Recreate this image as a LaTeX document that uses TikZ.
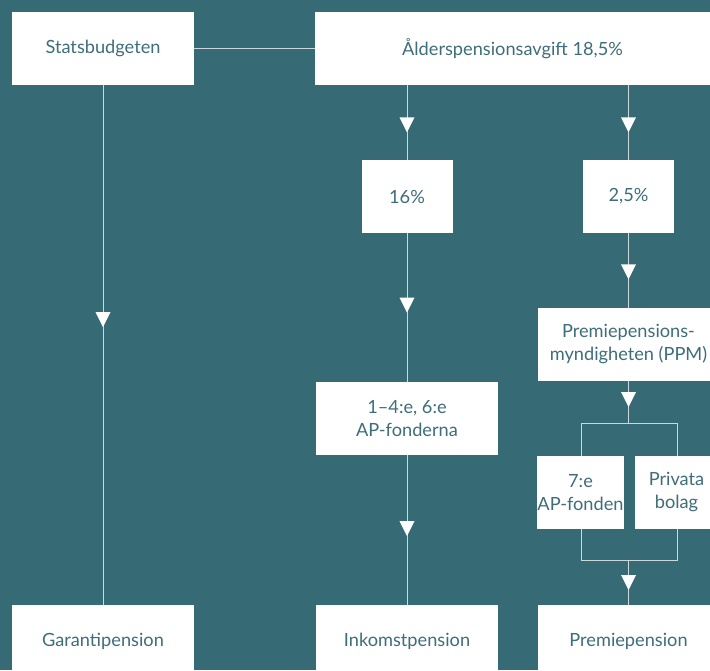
\documentclass[tikz,border=0pt]{standalone}
\usepackage{fontspec}
\setmainfont{Lato}
\definecolor{bg}{HTML}{366A75}
\definecolor{tx}{HTML}{3E6E79}
\definecolor{ln}{HTML}{CCD8DB}
\begin{document}
\begin{tikzpicture}[x=1pt,y=-1pt,
  box/.style={fill=white, text=tx, align=center, inner sep=0pt,
    font=\fontsize{18.2}{23}\selectfont},
  link/.style={draw=ln, line width=1pt},
  arrowdown/.pic={\fill[white] (-7.5,-15) -- (7.5,-15) -- (0,0) -- cycle;}]
\fill[bg] (0,0) rectangle (710,670);
\useasboundingbox (0,0) rectangle (710,670);

% boxes
\node[box, minimum width=182, minimum height=73] (stats) at (103,48.5) {Statsbudgeten};
\node[box, minimum width=395, minimum height=73] (alder) at (512.5,48.5) {Ålderspensionsavgift 18,5\%};
\node[box, minimum width=91, minimum height=73] (p16) at (407,196.5) {16\%};
\node[box, minimum width=91, minimum height=73] (p25) at (628.5,196.5) {2,5\%};
\node[box, minimum width=181, minimum height=73] (ppm) at (628.5,344.5) {Premiepensions-\\myndigheten (PPM)};
\node[box, minimum width=182, minimum height=73] (ap14) at (407,418.5) {1–4:e, 6:e\\AP-fonderna};
\node[box, minimum width=85, minimum height=73] (ap7) at (580.5,492.5) {7:e\\AP-fonden};
\node[box, minimum width=83, minimum height=73] (priv) at (676.5,492.5) {Privata\\bolag};
\node[box, minimum width=182, minimum height=73] (garanti) at (103,641.5) {Garantipension};
\node[box, minimum width=182, minimum height=73] (inkomst) at (407,641.5) {Inkomstpension};
\node[box, minimum width=181, minimum height=73] (premie) at (628.5,641.5) {Premiepension};

% bracket coordinates
\coordinate (brL) at (581,423);
\coordinate (brR) at (677,423);
\coordinate (brT) at (628.5,423);
\coordinate (brBL) at (581,560);
\coordinate (brBR) at (677,560);
\coordinate (brB) at (628.5,560);

% connectors
\draw[link] (stats.east) -- (alder.west);
\draw[link] (stats.south) -- (garanti.north);
\draw[link] (alder.south -| p16.north) -- (p16.north);
\draw[link] (alder.south -| p25.north) -- (p25.north);
\draw[link] (p16.south) -- (ap14.north);
\draw[link] (ap14.south) -- (inkomst.north);
\draw[link] (p25.south) -- (ppm.north);
\draw[link] (ppm.south) -- (brT);
\draw[link] (ap7.north -| brL) -- (brL) -- (brR) -- (priv.north -| brR);
\draw[link] (ap7.south -| brBL) -- (brBL) -- (brBR) -- (priv.south -| brBR);
\draw[link] (brB) -- (premie.north);

% arrowheads
\pic at (407,132.3) {arrowdown};
\pic at (628.5,132.3) {arrowdown};
\pic at (628.5,279.3) {arrowdown};
\pic at (407,312.7) {arrowdown};
\pic at (103,327) {arrowdown};
\pic at (628.5,407) {arrowdown};
\pic at (407,536) {arrowdown};
\pic at (628.5,590) {arrowdown};
\end{tikzpicture}
\end{document}
